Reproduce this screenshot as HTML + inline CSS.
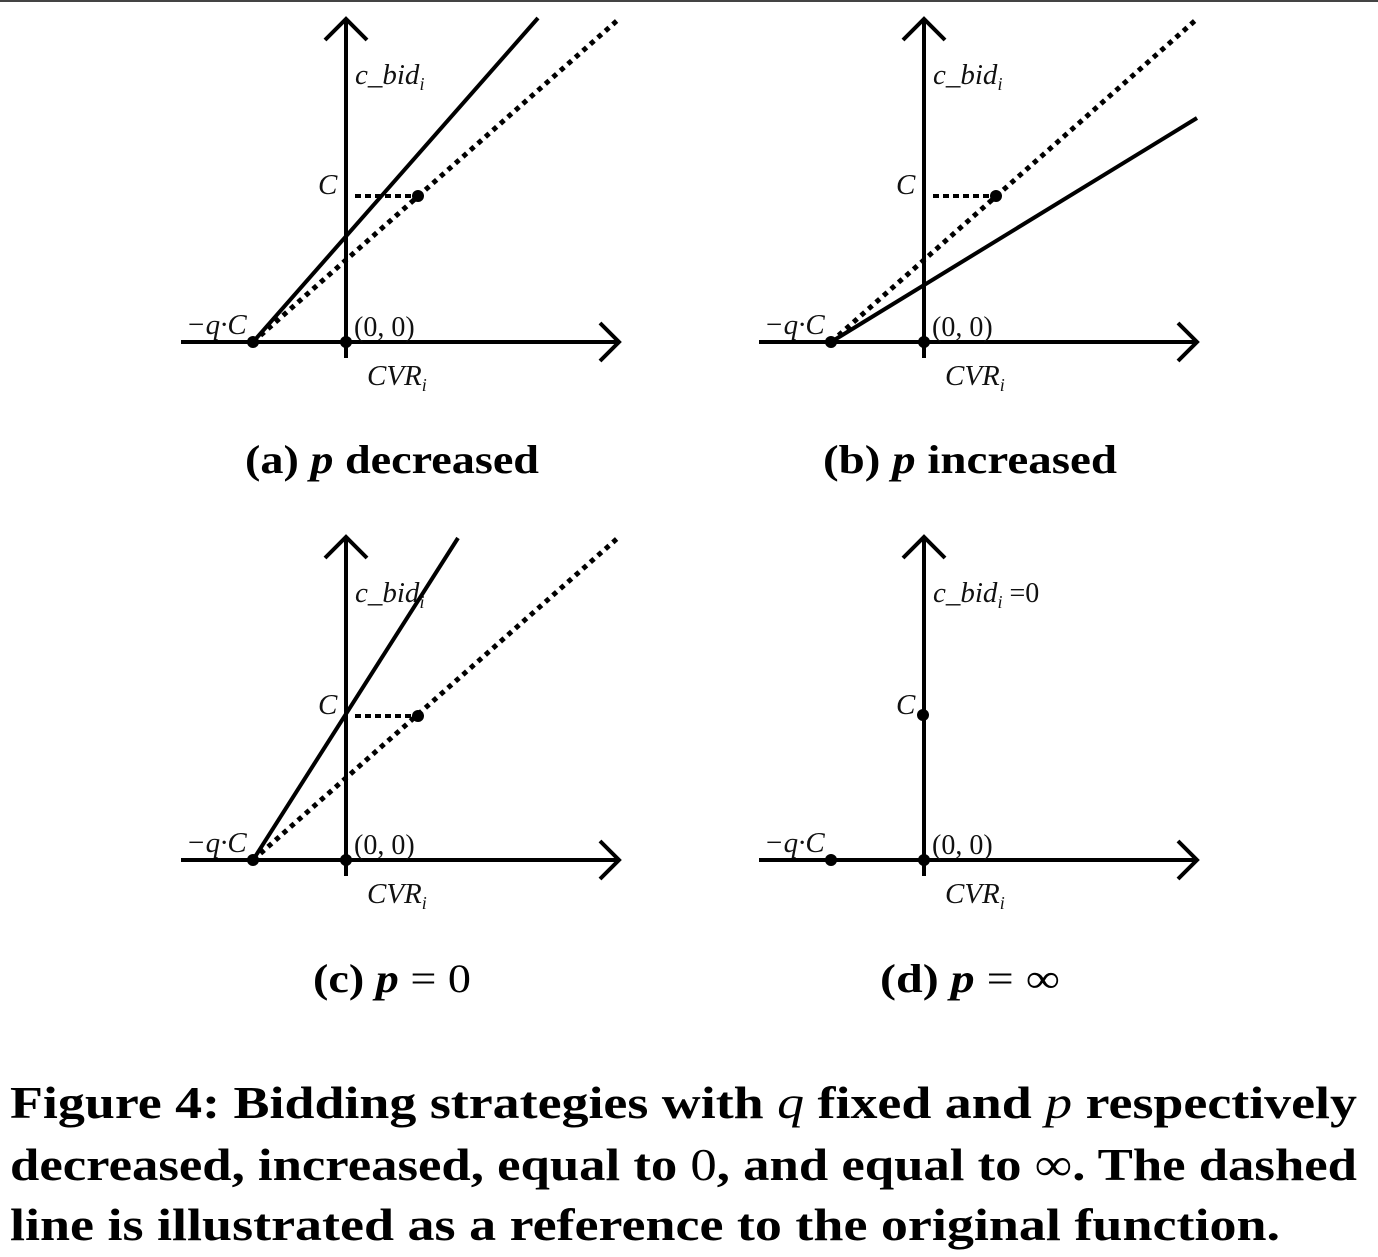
<!DOCTYPE html>
<html><head><meta charset="utf-8"><style>
html,body{margin:0;padding:0;background:#fff;}
svg{display:block;}
.m{font-family:"Liberation Serif",serif;font-style:italic;font-size:29px;fill:#111;}
.r{font-family:"Liberation Serif",serif;font-size:28px;fill:#111;}
.s{font-family:"Liberation Serif",serif;font-weight:bold;font-size:40px;fill:#000;}
.c{font-family:"Liberation Serif",serif;font-weight:bold;font-size:46px;fill:#000;}
</style></head><body>
<svg width="1378" height="1257" viewBox="0 0 1378 1257" xmlns="http://www.w3.org/2000/svg">
<rect x="0" y="0" width="1378" height="2" fill="#444"/>
<defs>
<g id="axes" stroke="#000" stroke-width="4" fill="none">
<line x1="181" y1="342" x2="619" y2="342"/>
<polyline points="600,323 619,342 600,361"/>
<line x1="346" y1="20" x2="346" y2="358"/>
<polyline points="325,40 346,19 367,40"/>
</g>
<g id="lab">
<text class="m" x="355" y="84">c_bid<tspan font-size="18" dy="6">i</tspan></text>
<text class="m" x="186" y="334">−q·C</text>
<text class="r" x="354" y="336">(0, 0)</text>
<text class="m" x="367" y="385">CVR<tspan font-size="18" dy="6">i</tspan></text>
<circle cx="346" cy="342" r="6" fill="#000"/>
</g>
</defs>
<!-- a -->
<use href="#axes"/><use href="#lab"/>
<text class="m" x="318" y="194">C</text>
<line x1="253" y1="342" x2="620" y2="18" stroke="#000" stroke-width="5" stroke-dasharray="5,5"/>
<line x1="355" y1="196" x2="418" y2="196" stroke="#000" stroke-width="4" stroke-dasharray="6,4"/>
<line x1="253" y1="342" x2="538" y2="18" stroke="#000" stroke-width="4"/>
<circle cx="253" cy="342" r="6"/><circle cx="418" cy="196" r="6"/>
<!-- b -->
<g transform="translate(578,0)">
<use href="#axes"/><use href="#lab"/>
<text class="m" x="318" y="194">C</text>
<line x1="253" y1="342" x2="620" y2="18" stroke="#000" stroke-width="5" stroke-dasharray="5,5"/>
<line x1="355" y1="196" x2="418" y2="196" stroke="#000" stroke-width="4" stroke-dasharray="6,4"/>
<line x1="253" y1="342" x2="619" y2="118" stroke="#000" stroke-width="4"/>
<circle cx="253" cy="342" r="6"/><circle cx="418" cy="196" r="6"/>
</g>
<!-- c -->
<g transform="translate(0,518)">
<use href="#axes"/><use href="#lab"/>
<text class="m" x="318" y="196">C</text>
<line x1="253" y1="342" x2="620" y2="18" stroke="#000" stroke-width="5" stroke-dasharray="5,5"/>
<line x1="355" y1="198" x2="418" y2="198" stroke="#000" stroke-width="4" stroke-dasharray="6,4"/>
<line x1="253" y1="342" x2="458" y2="20" stroke="#000" stroke-width="4"/>
<circle cx="253" cy="342" r="6"/><circle cx="418" cy="198" r="6"/>
</g>
<!-- d -->
<g transform="translate(578,518)">
<use href="#axes"/>
<text class="m" x="355" y="84">c_bid<tspan font-size="18" dy="6">i</tspan><tspan class="r" font-style="normal" dy="-6"> =0</tspan></text>
<text class="m" x="186" y="334">−q·C</text>
<text class="r" x="354" y="336">(0, 0)</text>
<text class="m" x="367" y="385">CVR<tspan font-size="18" dy="6">i</tspan></text>
<circle cx="346" cy="342" r="6"/>
<text class="m" x="318" y="196">C</text>
<circle cx="253" cy="342" r="6"/><circle cx="345" cy="197" r="6"/>
</g>
<!-- subcaptions -->
<text class="s" x="245" y="473" textLength="294" lengthAdjust="spacingAndGlyphs">(a) <tspan font-style="italic">p</tspan> decreased</text>
<text class="s" x="823" y="473" textLength="294" lengthAdjust="spacingAndGlyphs">(b) <tspan font-style="italic">p</tspan> increased</text>
<text class="s" x="313" y="992" textLength="158" lengthAdjust="spacingAndGlyphs">(c) <tspan font-style="italic">p</tspan> <tspan font-weight="normal">=</tspan> <tspan font-weight="normal">0</tspan></text>
<text class="s" x="880" y="992" textLength="180" lengthAdjust="spacingAndGlyphs">(d) <tspan font-style="italic">p</tspan> <tspan font-weight="normal">=</tspan> <tspan font-weight="normal">∞</tspan></text>
<!-- caption -->
<text class="c" x="10" y="1118" textLength="1347" lengthAdjust="spacingAndGlyphs">Figure 4: Bidding strategies with <tspan font-style="italic" font-weight="normal">q</tspan> fixed and <tspan font-style="italic" font-weight="normal">p</tspan> respectively</text>
<text class="c" x="10" y="1180" textLength="1347" lengthAdjust="spacingAndGlyphs">decreased, increased, equal to <tspan font-weight="normal">0</tspan>, and equal to <tspan font-weight="normal">∞</tspan>. The dashed</text>
<text class="c" x="10" y="1240" textLength="1270" lengthAdjust="spacingAndGlyphs">line is illustrated as a reference to the original function.</text>
</svg>
</body></html>
